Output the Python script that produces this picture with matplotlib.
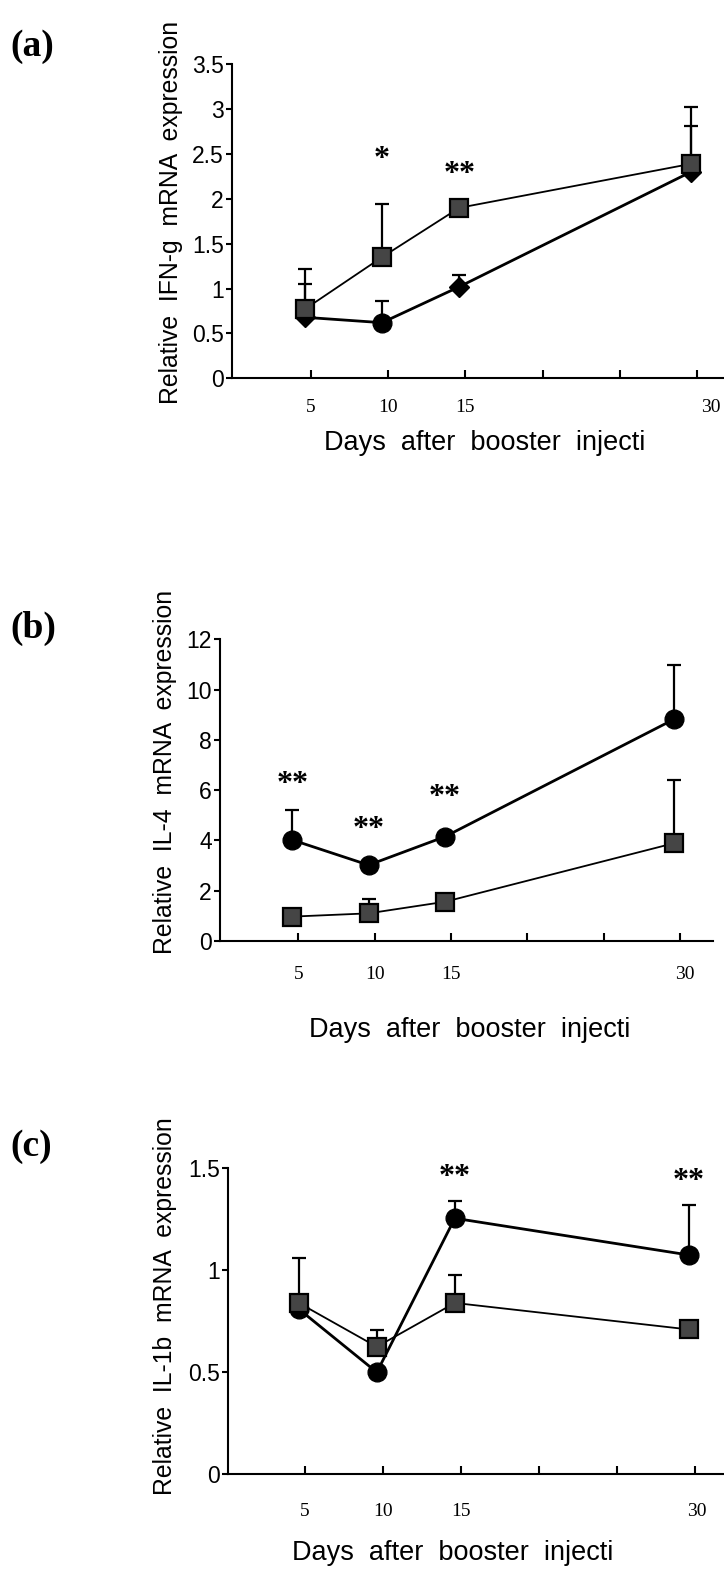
import numpy as np
import matplotlib.pyplot as plt
from matplotlib.transforms import ScaledTranslation

plt.rcParams['font.family'] = ['Liberation Sans', 'DejaVu Sans']

W, H = 724, 1571

# x axis: one slot per 5 days, only sampled days get a label
tick_labels = ['5', '10', '15', '', '', '30']
slots = np.array([1, 2, 3, 6])

# (a) IFN-g
ifn_grey = [0.77, 1.35, 1.90, 2.39]
ifn_grey_se = [0.45, 0.59, 0.0, 0.63]
ifn_black = [0.68, 0.62, 1.02, 2.30]
ifn_black_se = [0.37, 0.24, 0.13, 0.51]
ifn_black_mk = ['D', 'o', 'D', 'D']
ifn_stars = ['', '*', '**', '']
ifn_star_y = [0, 2.53, 2.36, 0]

# (b) IL-4
il4_grey = [0.97, 1.10, 1.56, 3.89]
il4_grey_se = [0.0, 0.56, 0.0, 2.51]
il4_black = [4.02, 3.02, 4.15, 8.82]
il4_black_se = [1.19, 0.0, 0.0, 2.16]
il4_black_mk = ['o', 'o', 'o', 'o']
il4_stars = ['**', '**', '**', '*']
il4_star_y = [6.53, 4.75, 6.03, 12.57]

# (c) IL-1b
il1b_grey = [0.84, 0.625, 0.84, 0.71]
il1b_grey_se = [0.22, 0.08, 0.135, 0.0]
il1b_black = [0.81, 0.50, 1.255, 1.075]
il1b_black_se = [0.0, 0.0, 0.085, 0.245]
il1b_black_mk = ['o', 'o', 'o', 'o']
il1b_stars = ['', '', '**', '**']
il1b_star_y = [0, 0, 1.495, 1.475]


def px_axes(fig, left, top, right, bottom):
    return fig.add_axes([left / W, 1 - bottom / H, (right - left) / W, (bottom - top) / H])


def panel(ax, grey, grey_se, black, black_se, black_mk, stars, star_y,
          ylim, yticks, yticklabels, xlim, xpad, shift30):
    x = slots - 0.08
    zeros = np.zeros(len(x))
    ax.errorbar(x, black, yerr=[zeros, black_se], fmt='none', ecolor='k',
                elinewidth=1.6, capsize=5, capthick=1.6, zorder=1)
    ax.errorbar(x, grey, yerr=[zeros, grey_se], fmt='none', ecolor='k',
                elinewidth=1.6, capsize=5, capthick=1.6, zorder=1)
    ax.plot(x, black, '-', color='k', lw=2.0, zorder=2)
    for xi, yi, m in zip(x, black, black_mk):
        ax.plot(xi, yi, marker=m, ms=10 if m == 'D' else 13.5, color='k',
                mec='k', zorder=3)
    ax.plot(x, grey, '-', color='k', lw=1.3, zorder=4)
    ax.plot(x, grey, 's', ms=12.5, mfc='#454545', mec='k', mew=1.6, zorder=5)

    for xi, s, sy in zip(x, stars, star_y):
        if s:
            ax.annotate(s, (xi, sy), xytext=(0, -11), textcoords='offset points',
                        ha='center', va='baseline', fontsize=23,
                        fontweight='bold', family='Liberation Serif')

    ax.set_xlim(*xlim)
    ax.set_ylim(*ylim)
    ax.set_xticks(range(1, 7))
    ax.set_xticklabels(tick_labels, family='Liberation Serif', fontsize=14)
    ax.set_yticks(yticks)
    ax.set_yticklabels(yticklabels, fontsize=16.5)
    ax.tick_params(axis='x', direction='in', length=6, width=1.5, pad=xpad)
    ax.tick_params(axis='y', direction='out', length=4, width=1.5, pad=1.8)
    # the "30" label sits a little right of its tick
    lab = ax.get_xticklabels()[-1]
    lab.set_transform(lab.get_transform() +
                      ScaledTranslation(shift30 / 100, 0, fig.dpi_scale_trans))
    for side in ['top', 'right']:
        ax.spines[side].set_visible(False)
    for side in ['left', 'bottom']:
        ax.spines[side].set_linewidth(1.5)
    ax.patch.set_alpha(0)


fig = plt.figure(figsize=(W / 100, H / 100), dpi=100)

ax_a = px_axes(fig, 232, 64.3, 724, 378.3)
panel(ax_a, ifn_grey, ifn_grey_se, ifn_black, ifn_black_se, ifn_black_mk,
      ifn_stars, ifn_star_y, (0, 3.5), np.arange(0, 3.6, 0.5),
      ['0', '0.5', '1', '1.5', '2', '2.5', '3', '3.5'], (-0.023, 6.35), 15, 14)

ax_b = px_axes(fig, 220, 639.3, 713, 941)
panel(ax_b, il4_grey, il4_grey_se, il4_black, il4_black_se, il4_black_mk,
      il4_stars, il4_star_y, (0, 12), np.arange(0, 13, 2),
      ['0', '2', '4', '6', '8', '10', '12'], (-0.026, 6.43), 18, 5)

ax_c = px_axes(fig, 227.7, 1168.3, 724, 1474.3)
panel(ax_c, il1b_grey, il1b_grey_se, il1b_black, il1b_black_se, il1b_black_mk,
      il1b_stars, il1b_star_y, (0, 1.5), [0, 0.5, 1, 1.5],
      ['0', '0.5', '1', '1.5'], (0.009, 6.37), 21, 2)


def fig_text(x, y, s, **kw):
    fig.text(x / W, 1 - y / H, s, ha='center', va='center', **kw)


# panel letters
for letter, y in [('(a)', 47), ('(b)', 628), ('(c)', 1147)]:
    fig.text(10 / W, 1 - y / H, letter, ha='left', va='center', fontsize=27,
             fontweight='bold', family='Liberation Serif')

# axis titles
ylab = [('Relative  IFN-g  mRNA  expression', 171, 212),
        ('Relative  IL-4  mRNA  expression', 165, 772),
        ('Relative  IL-1b  mRNA  expression', 165, 1306)]
for s, x, y in ylab:
    fig_text(x, y, s, rotation=90, fontsize=17.8)

for x, y in [(485, 443), (470, 1030), (453, 1553)]:
    fig_text(x, y, 'Days  after  booster  injecti', fontsize=19.5)

fig.savefig('out.png', dpi=100)
